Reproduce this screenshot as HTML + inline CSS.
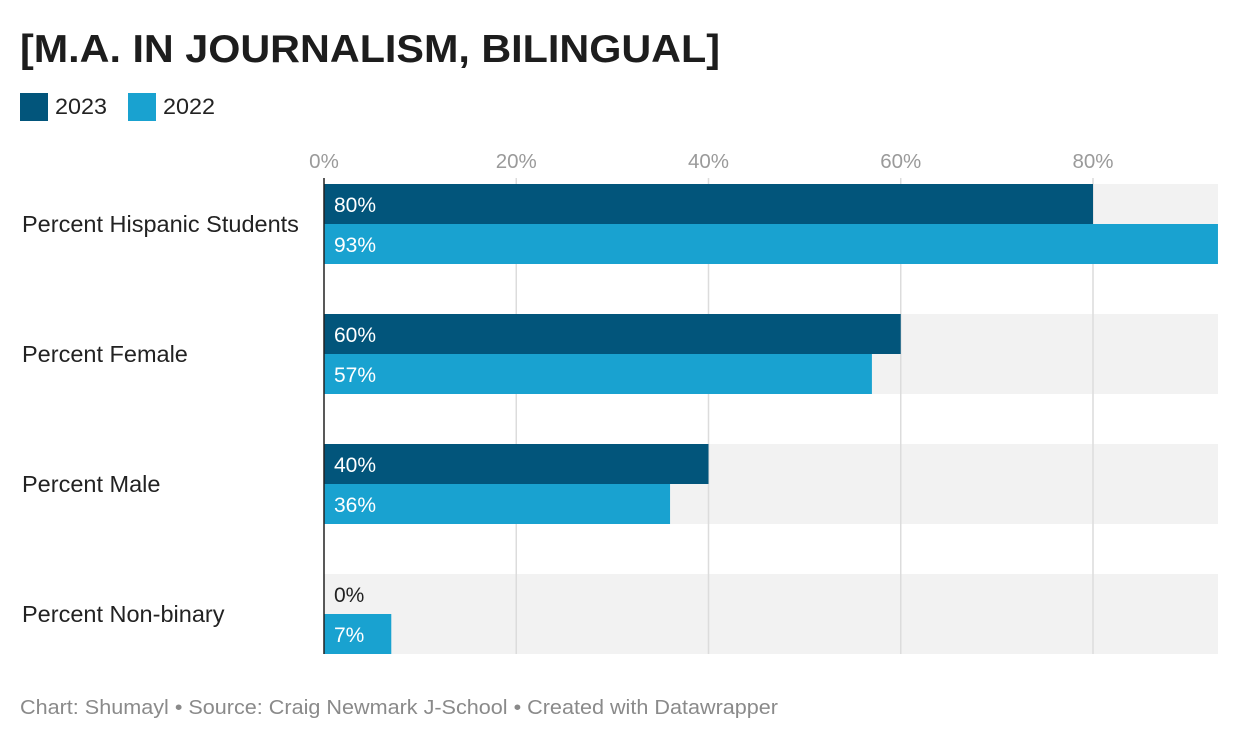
<!DOCTYPE html>
<html><head><meta charset="utf-8">
<style>
body{margin:0;width:1240px;height:742px;background:#fff;font-family:"Liberation Sans",Arial,sans-serif;overflow:hidden}
</style></head>
<body>
<svg width="1240" height="742" xmlns="http://www.w3.org/2000/svg" id="chart">
<text x="20" y="62" font-size="39" font-weight="bold" fill="#1d1d1d" textLength="700" lengthAdjust="spacingAndGlyphs">[M.A. IN JOURNALISM, BILINGUAL]</text>
<g>
<rect x="20" y="93" width="28" height="28" fill="#02557b"/>
<text x="55" y="114" font-size="22" fill="#222" textLength="52" lengthAdjust="spacingAndGlyphs">2023</text>
<rect x="128" y="93" width="28" height="28" fill="#19a2d0"/>
<text x="163" y="114" font-size="22" fill="#222" textLength="52" lengthAdjust="spacingAndGlyphs">2022</text>
</g>
<g id="plot"></g>
<text x="20" y="714" font-size="20.5" fill="#8a8a8a" textLength="758" lengthAdjust="spacingAndGlyphs">Chart: Shumayl • Source: Craig Newmark J-School • Created with Datawrapper</text>
</svg>
<script>
const categories=["Percent Hispanic Students","Percent Female","Percent Male","Percent Non-binary"];
const values2023=[80,60,40,0];
const values2022=[93,57,36,7];
const ticks=[0,20,40,60,80];
const NS="http://www.w3.org/2000/svg";
const x0=324, pxPer=(1093-324)/80, maxX=1218;
const xs=v=>x0+v*pxPer;
const groupY=i=>184+i*130;
const g=document.getElementById('plot');
function mk(t,a){const e=document.createElementNS(NS,t);for(const k in a)e.setAttribute(k,a[k]);g.appendChild(e);return e;}
categories.forEach((c,i)=>{
  const bg=mk('rect',{x:x0,y:groupY(i),width:maxX-x0,height:80,fill:'#f2f2f2'});
  
  
});
ticks.forEach(t=>{
  if(t>0){const l=mk('line',{x1:xs(t),x2:xs(t),y1:178,y2:654,stroke:'#dcdcdc','stroke-width':1.5});
  
  }
  const tx=mk('text',{x:xs(t),y:168,'font-size':20.5,fill:'#9a9a9a','text-anchor':'middle'});
  tx.textContent=t+'%';
  
  
});
categories.forEach((c,i)=>{
  const y=groupY(i);
  const lb=mk('text',{x:22,y:y+48,'font-size':23.5,fill:'#222'});
  lb.textContent=c;
  
  
  [[values2023,'#02557b',0],[values2022,'#19a2d0',40]].forEach(([arr,col,off])=>{
    const v=arr[i];
    const r=mk('rect',{x:x0,y:y+off,width:xs(v)-x0,height:40,fill:col});
    
    
    const tv=mk('text',{x:x0+10,y:y+off+28,'font-size':21,fill:v>3?'#fff':'#222'});
    tv.textContent=v+'%';
    
    
  });
});
const ax=mk('line',{x1:x0,x2:x0,y1:178,y2:654,stroke:'#222','stroke-width':1.5});


</script>
</body></html>
